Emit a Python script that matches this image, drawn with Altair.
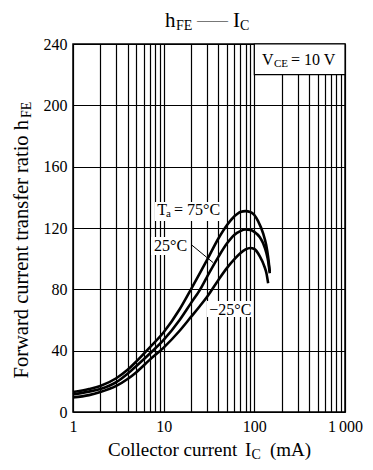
import altair as alt
import pandas as pd

# ---- data ----
ic_75 = [1, 1.5, 2, 3, 4, 5, 7, 10, 15, 20, 30, 40, 50, 60, 70, 80, 90, 100, 110, 125, 135, 142, 148]
hfe_75 = [13, 15, 17, 22, 27.5, 33, 42, 52, 67, 80, 99, 113, 122, 127.5, 130.5, 131, 130.5, 128.5, 124.5, 116.5, 109, 101, 91.5]

ic_25 = [1, 1.5, 2, 3, 4, 5, 7, 10, 15, 20, 25, 30, 40, 50, 60, 70, 80, 90, 100, 115, 125, 136, 142, 148]
hfe_25 = [11.5, 13.3, 15, 19.5, 25, 30, 38, 47, 60, 71, 79.5, 88, 101, 110, 115.5, 118, 119, 118.8, 117.5, 114, 110, 103.5, 98.5, 90.5]

ic_m25 = [1, 1.5, 2, 3, 4, 5, 7, 10, 15, 20, 25, 30, 40, 50, 60, 70, 80, 90, 100, 115, 128, 136, 142]
hfe_m25 = [9.5, 11, 13, 17, 21.5, 26, 34, 42, 53, 62, 69, 75, 86, 94, 99.5, 103.5, 106, 107, 106.3, 101.5, 95.5, 90.5, 84]

series_names = ["75", "25", "-25"]

x_grid = [1, 2, 3, 4, 5, 6, 7, 8, 9,
          10, 20, 30, 40, 50, 60, 70, 80, 90,
          100, 200, 300, 400, 500, 600, 700, 800, 900, 1000]
y_grid = [0, 20, 40, 60, 80, 100, 120, 140, 160, 180, 200, 220, 240]

FONT = "Liberation Serif"

rows = []
for name, xs, ys in zip(series_names, [ic_75, ic_25, ic_m25], [hfe_75, hfe_25, hfe_m25]):
    for i, (a, b) in enumerate(zip(xs, ys)):
        rows.append({"series": name, "ic": a, "hfe": b, "order": i})
curves_df = pd.DataFrame(rows)

one = pd.DataFrame({"d": [0]})

xscale = alt.Scale(type="log", domain=[1, 1000])
yscale = alt.Scale(domain=[0, 240], nice=False, zero=False)

x_labels = ("datum.value == 1 ? '1' : datum.value == 10 ? '10' : "
            "datum.value == 100 ? '100' : datum.value == 1000 ? '1\u2009000' : ''")

curves = alt.Chart(curves_df).mark_line(
    color="black", strokeWidth=2.6, interpolate="monotone"
).encode(
    x=alt.X("ic:Q", scale=xscale, title=None,
            axis=alt.Axis(values=x_grid, labelExpr=x_labels, grid=True,
                          ticks=False, tickSize=0, domain=False,
                          gridColor="black", gridWidth=1.2, gridOpacity=1,
                          labelFont=FONT, labelFontSize=16, labelColor="black",
                          labelPadding=6, labelFlush=False, labelOverlap=False,
                          title=None)),
    y=alt.Y("hfe:Q", scale=yscale, title=None,
            axis=alt.Axis(values=y_grid, labelExpr="datum.value % 40 == 0 ? datum.label : ''",
                          grid=True, ticks=False, tickSize=0, domain=False,
                          gridColor="black", gridWidth=1.2, gridOpacity=1,
                          labelFont=FONT, labelFontSize=16, labelColor="black",
                          labelPadding=6, labelOverlap=False, title=None)),
    detail="series:N",
    order="order:Q",
)

def bg_rect(x1, x2, y1, y2, stroke=None):
    kw = dict(fill="white")
    if stroke:
        kw.update(stroke=stroke, strokeWidth=1.2)
    return alt.Chart(one).mark_rect(**kw).encode(
        x=alt.datum(x1), x2=alt.datum(x2), y=alt.datum(y1), y2=alt.datum(y2))

def dtext(txt, x, y, size=16, align="left"):
    return alt.Chart(one).mark_text(
        text=txt, font=FONT, fontSize=size, color="black", align=align,
        baseline="alphabetic").encode(x=alt.datum(x), y=alt.datum(y))

def ptext(txt, x, y, size=16, align="left", angle=0):
    kw = dict(text=txt, font=FONT, fontSize=size, color="black", align=align,
              baseline="alphabetic")
    if angle:
        kw["angle"] = angle
    return alt.Chart(one).mark_text(**kw).encode(x=alt.value(x), y=alt.value(y))

# label backgrounds and the V_CE box
bgs = [
    bg_rect(100, 1000, 220, 240, stroke="black"),
    bg_rect(8.0, 46.2, 124.6, 137),
    bg_rect(7.25, 19.4, 102.4, 114.2),
    bg_rect(30, 96.5, 62, 72.4),
]

leader = alt.Chart(one).mark_rule(color="black", strokeWidth=1).encode(
    x=alt.datum(20.4), y=alt.datum(108.9), x2=alt.datum(35), y2=alt.datum(97.5))

labels = [
    dtext("V", 121.3, 226.4),
    dtext("CE", 164.5, 225, size=11),
    dtext("= 10 V", 253.2, 226.4),
    dtext("T", 8.5, 128.5),
    dtext("a", 10.6, 126.9, size=11),
    dtext("= 75°C", 13.0, 128.5),
    dtext("25°C", 7.82, 105),
    dtext("\u221225°C", 31.8, 63.3),
]

titles = [
    ptext("h", 92, -17.5, size=21),
    ptext("FE", 103, -14.5, size=14),
    ptext("\u2014\u2014", 124, -19.5, size=15.5),
    ptext("I", 160, -17.5, size=21),
    ptext("C", 167, -14.5, size=14),
    ptext("Collector current", 35, 412, size=19),
    ptext("I", 172, 412, size=19),
    ptext("C", 178.5, 415, size=14),
    ptext("(mA)", 197, 412, size=19),
    ptext("Forward current transfer ratio  h", -45, 76, size=20.5, align="right", angle=270),
    ptext("FE", -42, 74, size=14, align="left", angle=270),
]

chart = alt.layer(*bgs, curves, leader, *labels, *titles).properties(
    width=272, height=368,
    autosize=alt.AutoSizeParams(type="none"),
    padding={"left": 65, "top": 36, "right": 20, "bottom": 50},
).configure_view(stroke="black", strokeWidth=1.5)

chart.save("out.html", embed_options={"renderer": "svg", "actions": False})
